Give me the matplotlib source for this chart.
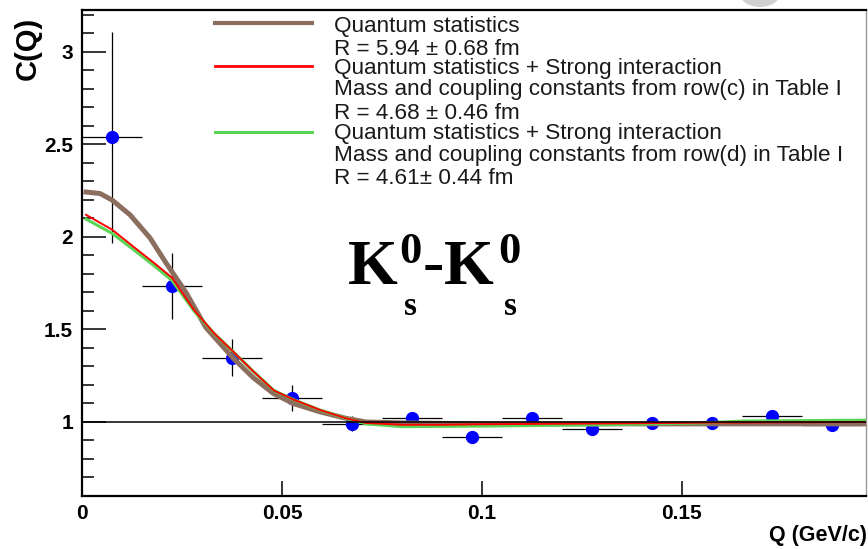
import matplotlib.pyplot as plt
import numpy as np
from matplotlib.lines import Line2D
from matplotlib.patches import Ellipse

# ---------------- data ----------------
q_pts = [0.0075, 0.0225, 0.0375, 0.0525, 0.0675, 0.0825, 0.0975,
         0.1125, 0.1275, 0.1425, 0.1575, 0.1725, 0.1875]
c_pts = [2.54, 1.735, 1.346, 1.13, 0.99, 1.02, 0.92,
         1.02, 0.96, 0.995, 0.993, 1.03, 0.985]
c_err = [0.57, 0.18, 0.10, 0.07, 0.04, 0.02, 0.02,
         0.02, 0.02, 0.02, 0.02, 0.02, 0.02]
q_err = [0.0075] * len(q_pts)

# Quantum statistics
q_qs = [0.001, 0.0045, 0.0075, 0.012, 0.017, 0.021, 0.026, 0.031, 0.0378,
        0.0428, 0.0478, 0.0528, 0.0595, 0.066, 0.071, 0.08, 0.1, 0.15, 0.196]
c_qs = [2.243, 2.235, 2.20, 2.12, 1.995, 1.86, 1.70, 1.51, 1.345,
        1.24, 1.155, 1.10, 1.055, 1.02, 1.00, 0.995, 0.99, 0.99, 0.99]

# QS + strong interaction, row(c)
q_c = [0.001, 0.0075, 0.013, 0.018, 0.0225, 0.028, 0.033, 0.0378, 0.043,
       0.048, 0.053, 0.0595, 0.066, 0.071, 0.08, 0.09, 0.1, 0.13, 0.16, 0.196]
c_c = [2.12, 2.04, 1.945, 1.86, 1.78, 1.605, 1.48, 1.38, 1.27,
       1.17, 1.12, 1.065, 1.02, 0.995, 0.985, 0.985, 0.988, 0.992, 0.997, 1.0]

# QS + strong interaction, row(d)
q_d = [0.001, 0.0075, 0.013, 0.018, 0.0225, 0.028, 0.033, 0.0378, 0.043,
       0.048, 0.053, 0.0595, 0.066, 0.071, 0.08, 0.1, 0.13, 0.155, 0.165, 0.196]
c_d = [2.097, 2.02, 1.93, 1.845, 1.765, 1.60, 1.48, 1.38, 1.27,
       1.17, 1.12, 1.065, 1.02, 0.99, 0.975, 0.978, 0.985, 0.995, 1.005, 1.01]

legend_lines = [
    "Quantum statistics",
    "R = 5.94 \u00b1 0.68 fm",
    "Quantum statistics + Strong interaction",
    "Mass and coupling constants from row(c) in Table I",
    "R = 4.68 \u00b1 0.46 fm",
    "Quantum statistics + Strong interaction",
    "Mass and coupling constants from row(d) in Table I",
    "R = 4.61\u00b1 0.44 fm",
]

brown = '#8c6e5f'
red = '#ff0000'
green = '#59d454'

W, H = 868, 549
plt.rcParams['font.family'] = ['Liberation Sans', 'DejaVu Sans']

fig = plt.figure(figsize=(W / 100, H / 100), dpi=100)
ax = fig.add_axes([82 / W, 1 - 496 / H, (866 - 82) / W, (496 - 10) / H])


def px(x, y):
    # image pixel -> figure fraction
    return x / W, 1 - y / H


ax.errorbar(q_pts, c_pts, yerr=c_err, xerr=q_err, fmt='o', color='blue',
            markersize=8.5, ecolor='black', elinewidth=0.9, capsize=0, zorder=2)
ax.plot(q_qs, c_qs, color=brown, lw=3.6, zorder=3)
ax.plot(q_d, c_d, color=green, lw=2.2, zorder=4)
ax.plot(q_c, c_c, color=red, lw=1.4, zorder=5)
ax.axhline(1.0, color='black', lw=1.1, zorder=6)

ax.set_xlim(0, 0.196)
ax.set_ylim(0.6, 3.227)
ax.set_xticks([0, 0.05, 0.1, 0.15])
ax.set_xticklabels(['0', '0.05', '0.1', '0.15'])
ax.set_yticks([1, 1.5, 2, 2.5, 3])
ax.set_yticklabels(['1', '1.5', '2', '2.5', '3'])
ax.set_yticks(np.arange(0.7, 3.21, 0.1), minor=True)
ax.tick_params(axis='x', direction='in', length=11, width=1.1, pad=5.5,
               labelsize=15)
ax.tick_params(axis='y', which='major', direction='in', length=17, width=1.1,
               pad=6.5, labelsize=15)
ax.tick_params(axis='y', which='minor', direction='in', length=8.5, width=1.1)
for lab in ax.get_xticklabels() + ax.get_yticklabels():
    lab.set_fontweight('bold')

for s in ['left', 'bottom', 'top']:
    ax.spines[s].set_linewidth(1.6)
ax.spines['right'].set_color('#999999')
ax.spines['right'].set_linewidth(1.0)

# axis titles
fig.text(*px(28, 48), 'C(Q)', rotation=90, fontsize=21, fontweight='bold',
         ha='center', va='center')
fig.text(*px(867, 536), 'Q (GeV/c)', fontsize=15.5, fontweight='bold',
         ha='right', va='center')

# faint grey blob at the top edge
cx, cy = px(760, -6)
fig.add_artist(Ellipse((cx, cy), 40 / W, 26 / H, color='#d0d0d0', lw=0,
                       zorder=0))

# legend
for y, c, lw in [(22.7, brown, 3.0), (66, red, 2.0), (131.7, green, 2.2)]:
    x0, yy = px(215, y)
    x1, _ = px(312, y)
    fig.add_artist(Line2D([x0, x1], [yy, yy], color=c, lw=lw))
for y, t in zip([31.7, 55, 74, 95, 119.3, 139.3, 160.7, 184.3], legend_lines):
    fig.text(*px(334, y), t, fontsize=16.2, ha='left', va='baseline',
             color='#1a1a1a')

# K0s-K0s label
serif = 'Liberation Serif'
for x0, t, y0, fs in [(348, 'K', 284, 46), (399, '0', 263, 32), (404, 's', 315, 24),
                      (423, '-', 282, 46),
                      (444, 'K', 284, 46), (498, '0', 263, 32), (504, 's', 315, 24)]:
    fig.text(*px(x0, y0), t, fontsize=fs, fontweight='bold', family=serif,
             ha='left', va='baseline')

fig.savefig('out.png', dpi=100)
